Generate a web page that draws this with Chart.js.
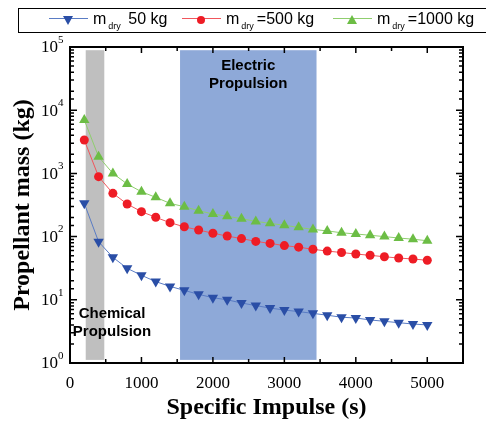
<!DOCTYPE html>
<html>
<head>
<meta charset="utf-8">
<script src="https://cdn.jsdelivr.net/npm/chart.js@4.4.0/dist/chart.umd.min.js"></script>
<style>
  html, body { margin: 0; padding: 0; background: #fff; overflow: hidden; }
  #wrap { position: relative; width: 486px; height: 425px; overflow: hidden; }
  #legend {
    position: absolute; left: 18px; top: 8px; width: 490px; height: 25px;
    border: 1px solid #000; box-sizing: border-box;
    font-family: "Liberation Sans", Arial, sans-serif; color: #000;
  }
  .lg-line { position: absolute; top: 9px; width: 39px; height: 0; border-top: 1px solid; }
  .lg-mark { position: absolute; top: 3px; }
  .lg-text { position: absolute; top: 1px; font-size: 16px; white-space: nowrap; line-height: 18px; }
  .lg-text sub { font-size: 9px; position: relative; top: 5px; vertical-align: baseline; margin: 0 3px 0 2px; }
</style>
</head>
<body>
<div id="wrap">
  <canvas id="myChart" width="486" height="425"></canvas>
  <div id="legend"></div>
</div>
<script>
// specific impulse (s)
var ispValues = [200, 400, 600, 800, 1000, 1200, 1400, 1600, 1800, 2000, 2200, 2400, 2600,
  2800, 3000, 3200, 3400, 3600, 3800, 4000, 4200, 4400, 4600, 4800, 5000];

// propellant mass (kg)
var mass50 = [336, 83, 47, 31.5, 24.4, 19.4, 16.3, 14.1, 12.2, 10.8, 10.0, 8.9, 8.1,
  7.4, 6.9, 6.5, 6.1, 5.7, 5.3, 5.15, 4.8, 4.57, 4.34, 4.14, 4.0];
var mass500 = [3375, 887, 484, 328, 248, 202, 166, 143, 127, 113, 102, 93, 84,
  78, 72, 68, 63, 59, 56, 53, 50.6, 48, 45.8, 44.2, 42.2];
var mass1000 = [7000, 1837, 1000, 680, 513, 418, 336, 297, 257, 228, 210, 192, 174,
  162, 151, 140, 130, 123, 115, 110, 105, 100, 95, 91, 86];

var seriesLabels = ["m dry 50 kg", "m dry=500 kg", "m dry=1000 kg"];
var legendSuffix = [" 50 kg", "=500 kg", "=1000 kg"];

// y axis decades (exponents of 10)
var yDecades = [0, 1, 2, 3, 4, 5];

// shaded regions (x range in s, y range in kg)
var chemicalRange = [220, 480];
var electricRange = [1540, 3450];
var bandMassRange = [1.12, 89000];
var bandNames = [["Chemical", "Propulsion"], ["Electric", "Propulsion"]];

var markerColors = ["#2a4ea6", "#ee1c25", "#6cbd45"];
var lineColors = ["#5a7cc4", "#f0565c", "#8fce6e"];
var pointStyles = ["triangle", "circle", "triangle"];
var pointRot = [180, 0, 0];
var pointSize = [6, 4.5, 6];

var serifFont = "'Liberation Serif', 'Times New Roman', serif";

function toPoints(arr) {
  return arr.map(function (v, i) { return { x: ispValues[i], y: v }; });
}

var bandsPlugin = {
  id: "bands",
  beforeDatasetsDraw: function (chart) {
    var ctx = chart.ctx, x = chart.scales.x, y = chart.scales.y;
    var top = y.getPixelForValue(bandMassRange[1]);
    var bot = y.getPixelForValue(bandMassRange[0]);
    ctx.save();
    ctx.fillStyle = "#bfbfbf";
    var c0 = x.getPixelForValue(chemicalRange[0]), c1 = x.getPixelForValue(chemicalRange[1]);
    ctx.fillRect(c0, top, c1 - c0, bot - top);
    ctx.fillStyle = "#8ea9d8";
    var e0 = x.getPixelForValue(electricRange[0]), e1 = x.getPixelForValue(electricRange[1]);
    ctx.fillRect(e0, top, e1 - e0, bot - top);

    ctx.fillStyle = "#000";
    ctx.font = "bold 15px 'Liberation Sans', Arial, sans-serif";
    ctx.textAlign = "center";
    ctx.textBaseline = "middle";
    ctx.fillText(bandNames[0][0], 112, 314);
    ctx.fillText(bandNames[0][1], 112, 332);
    ctx.fillText(bandNames[1][0], (e0 + e1) / 2, 66);
    ctx.fillText(bandNames[1][1], (e0 + e1) / 2, 84);
    ctx.restore();
  }
};

var framePlugin = {
  id: "frameTicks",
  afterDatasetsDraw: function (chart) {
    var ctx = chart.ctx, a = chart.chartArea, x = chart.scales.x, y = chart.scales.y;
    ctx.save();
    ctx.strokeStyle = "#000";
    ctx.lineWidth = 1.5;
    ctx.beginPath();
    x.ticks.forEach(function (t) {
      var px = x.getPixelForValue(t.value);
      if (px <= a.left + 1 || px >= a.right - 1) return;
      var len = t.value % 1000 === 0 ? 6 : 4;
      ctx.moveTo(px, a.bottom); ctx.lineTo(px, a.bottom - len);
      ctx.moveTo(px, a.top); ctx.lineTo(px, a.top + len);
    });
    y.ticks.forEach(function (t) {
      var py = y.getPixelForValue(t.value);
      if (py <= a.top + 1 || py >= a.bottom - 1) return;
      var e = Math.log10(t.value);
      var len = Math.abs(e - Math.round(e)) < 1e-9 ? 7 : 4;
      ctx.moveTo(a.left, py); ctx.lineTo(a.left + len, py);
      ctx.moveTo(a.right, py); ctx.lineTo(a.right - len, py);
    });
    ctx.stroke();
    ctx.lineWidth = 2;
    ctx.strokeRect(a.left, a.top, a.right - a.left, a.bottom - a.top);

    // y tick labels: 10 with a raised exponent
    ctx.fillStyle = "#000";
    ctx.textBaseline = "middle";
    yDecades.forEach(function (e) {
      var py = y.getPixelForValue(Math.pow(10, e));
      ctx.font = "11px " + serifFont;
      ctx.textAlign = "left";
      ctx.fillText(String(e), a.left - 12, py - 7);
      ctx.font = "17px " + serifFont;
      ctx.textAlign = "right";
      ctx.fillText("10", a.left - 12, py + 1);
    });
    ctx.restore();
  }
};

var canvas = document.getElementById("myChart");
var ctx = canvas.getContext("2d");

var myChart = new Chart(ctx, {
  type: "line",
  data: {
    datasets: [mass50, mass500, mass1000].map(function (arr, i) {
      return {
        label: seriesLabels[i],
        data: toPoints(arr),
        borderColor: lineColors[i],
        borderWidth: 1,
        backgroundColor: markerColors[i],
        pointBackgroundColor: markerColors[i],
        pointBorderColor: markerColors[i],
        pointBorderWidth: 0,
        pointStyle: pointStyles[i],
        rotation: pointRot[i],
        pointRadius: pointSize[i],
        tension: 0
      };
    })
  },
  options: {
    responsive: false,
    animation: false,
    layout: { padding: { top: 47, right: 23, left: 0, bottom: 0 } },
    plugins: { legend: { display: false }, tooltip: { enabled: false } },
    scales: {
      x: {
        type: "linear",
        min: 0,
        max: 5500,
        afterFit: function (s) { s.height = 62; },
        grid: { display: false },
        border: { display: false },
        ticks: {
          stepSize: 500,
          autoSkip: false,
          maxRotation: 0,
          padding: 2,
          color: "#000",
          font: { family: serifFont, size: 17 },
          callback: function (v) { return v % 1000 === 0 && v <= 5000 ? String(v) : ""; }
        },
        title: {
          display: true,
          text: "Specific Impulse (s)",
          color: "#000",
          font: { family: serifFont, size: 24, weight: "bold" },
          padding: { top: 0, bottom: 3 }
        }
      },
      y: {
        type: "logarithmic",
        min: 1,
        max: 100000,
        afterFit: function (s) { s.width = 70; },
        grid: { display: false },
        border: { display: false },
        ticks: {
          autoSkip: false,
          padding: 6,
          color: "#000",
          font: { family: serifFont, size: 17 },
          callback: function () { return ""; }
        },
        title: {
          display: true,
          text: "Propellant mass (kg)",
          color: "#000",
          font: { family: serifFont, size: 24, weight: "bold" },
          padding: { top: 8, bottom: 0 }
        }
      }
    }
  },
  plugins: [bandsPlugin, framePlugin]
});

// legend with subscripted "dry"
var legendX = [30, 163, 314];
var legendBox = document.getElementById("legend");
function markerSvg(i) {
  var c = markerColors[i];
  var shape;
  if (pointStyles[i] === "circle") {
    shape = '<circle cx="6" cy="6" r="4" fill="' + c + '"/>';
  } else if (pointRot[i] === 180) {
    shape = '<polygon points="1,2 11,2 6,11" fill="' + c + '"/>';
  } else {
    shape = '<polygon points="1,10 11,10 6,1" fill="' + c + '"/>';
  }
  return '<svg width="12" height="12">' + shape + "</svg>";
}
legendSuffix.forEach(function (suf, i) {
  var lx = legendX[i];
  var line = document.createElement("div");
  line.className = "lg-line";
  line.style.left = lx + "px";
  line.style.borderTopColor = lineColors[i];
  legendBox.appendChild(line);
  var mk = document.createElement("div");
  mk.className = "lg-mark";
  mk.style.left = (lx + 13) + "px";
  mk.innerHTML = markerSvg(i);
  legendBox.appendChild(mk);
  var tx = document.createElement("div");
  tx.className = "lg-text";
  tx.style.left = (lx + 44) + "px";
  tx.innerHTML = "m<sub>dry</sub>" + suf;
  legendBox.appendChild(tx);
});
</script>
</body>
</html>
